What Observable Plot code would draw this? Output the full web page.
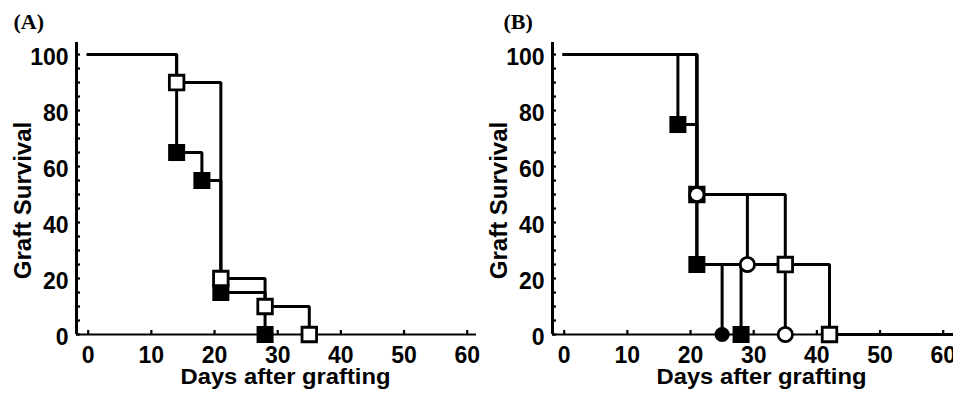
<!DOCTYPE html>
<html><head><meta charset="utf-8">
<script src="https://cdn.jsdelivr.net/npm/d3@7"></script>
<script src="https://cdn.jsdelivr.net/npm/@observablehq/plot@0.6"></script>
<style>
body{margin:0;background:#fff;}
#row{position:relative;width:953px;height:397px;}
#row svg{display:block;overflow:visible;position:absolute;top:0;}
</style></head><body><div id="row"></div>
<script>
// ---- text / ticks ----
const panelLabels = ["(A)", "(B)"];
const xLabel = "Days after grafting";
const yLabel = "Graft Survival";
const xTicks = [0, 10, 20, 30, 40, 50, 60];
const yTicks = [0, 20, 40, 60, 80, 100];
const yMinorTicks = [0, 5, 10, 15, 20, 25, 30, 35, 40, 45, 50, 55, 60, 65, 70, 75, 80, 85, 90, 95, 100];

// ---- Panel A (days, % graft survival) ----
const aOpenSquareDays = [0, 14, 21, 28, 35];
const aOpenSquareSurvival = [100, 90, 20, 10, 0];
const aFilledSquareDays = [0, 14, 18, 21, 28];
const aFilledSquareSurvival = [100, 65, 55, 15, 0];

// ---- Panel B ----
const bFilledCircleDays = [0, 21, 25];
const bFilledCircleSurvival = [100, 25, 0];
const bFilledSquareDays = [0, 18, 21, 28];
const bFilledSquareSurvival = [100, 75, 25, 0];
const bOpenSquareDays = [0, 21, 35, 42];
const bOpenSquareSurvival = [100, 50, 25, 0];
const bOpenCircleDays = [0, 21, 29, 35];
const bOpenCircleSurvival = [100, 50, 25, 0];

// ---- scales (layout) ----
const X_DOMAIN = [-1.852, 61.47];
const Y_DOMAIN = [0, 104.3];

function makeSeries(name, days, surv, symbol, filled, extend) {
  const rows = days.map((d, i) => ({series: name, day: d, surv: surv[i]}));
  return {name, rows, symbol, filled, extend};
}

const panels = [
  {label: panelLabels[0], left: 0, width: 476, labelDx: -63, series: [
    makeSeries("A filled square", aFilledSquareDays, aFilledSquareSurvival, "square", true, false),
    makeSeries("A open square", aOpenSquareDays, aOpenSquareSurvival, "square", false, false)
  ]},
  {label: panelLabels[1], left: 476, width: 477, labelDx: -49, series: [
    makeSeries("B filled circle", bFilledCircleDays, bFilledCircleSurvival, "circle", true, false),
    makeSeries("B filled square", bFilledSquareDays, bFilledSquareSurvival, "square", true, false),
    makeSeries("B open square", bOpenSquareDays, bOpenSquareSurvival, "square", false, true),
    makeSeries("B open circle", bOpenCircleDays, bOpenCircleSurvival, "circle", false, false)
  ]}
];

const row = document.getElementById("row");
const noText = () => "";

for (const p of panels) {
  const lineData = p.series.flatMap(s => {
    const r = s.rows.slice();
    if (s.extend) r.push({series: s.name, day: X_DOMAIN[1], surv: r[r.length - 1].surv});
    return r;
  });
  const dotMarks = p.series.map(s => {
    const pts = s.rows.slice(1);
    const isSq = s.symbol === "square";
    return Plot.dot(pts, {
      x: "day", y: "surv", symbol: s.symbol,
      r: s.filled ? (isSq ? 9.6 : 7.6) : (isSq ? 8.2 : 7.2),
      fill: s.filled ? "black" : "white",
      stroke: "black", strokeWidth: s.filled ? 0 : 2.8
    });
  });
  const chart = Plot.plot({
    width: p.width, height: 397,
    marginLeft: 76, marginRight: p.width - 476, marginTop: 42, marginBottom: 63,
    x: {domain: X_DOMAIN, range: [76, 476]},
    y: {domain: Y_DOMAIN, range: [334, 42]},
    style: {fontFamily: "'Liberation Sans', Arial, sans-serif", fontWeight: "bold", fontSize: "23px", background: "transparent", color: "black"},
    marks: [
      Plot.ruleY([0], {strokeWidth: 2.2}),
      Plot.ruleX([X_DOMAIN[0]], {strokeWidth: 3}),
      Plot.axisY({ticks: yMinorTicks, tickSize: 4, dx: 4, tickFormat: noText, label: null, strokeWidth: 2.2}),
      Plot.axisY({ticks: yTicks, tickSize: 0, tickPadding: 8, dy: 3, label: null, fontSize: 23, fontWeight: "bold"}),
      Plot.axisX({ticks: xTicks, tickSize: 4, dy: -4, tickFormat: noText, label: null, strokeWidth: 2.2}),
      Plot.axisX({ticks: xTicks, tickSize: 0, tickPadding: 12, label: null, fontSize: 23, fontWeight: "bold"}),
      Plot.line(lineData, {x: "day", y: "surv", z: "series", curve: "step-after", stroke: "black", strokeWidth: 3, strokeLinejoin: "miter", strokeLinecap: "square"}),
      ...dotMarks,
      Plot.text([yLabel], {text: d => d, frameAnchor: "left", textAnchor: "middle", rotate: -90, dx: -53.5, dy: 12, fontSize: 24, fontWeight: "bold"}),
      Plot.text([xLabel], {text: d => d, frameAnchor: "bottom", textAnchor: "middle", dx: 9, dy: 49, fontSize: 22, fontWeight: "bold"}),
      Plot.text([p.label], {text: d => d, frameAnchor: "top-left", textAnchor: "start", lineAnchor: "top", dx: p.labelDx, dy: -29, fontSize: 22, fontWeight: "bold", fontFamily: "'Liberation Serif', 'Times New Roman', serif"})
    ]
  });
  chart.style.left = p.left + "px";
  row.appendChild(chart);
  chart.querySelectorAll("text").forEach(t => {
    if (t.textContent === xLabel) {
      t.setAttribute("textLength", "210");
      t.setAttribute("lengthAdjust", "spacingAndGlyphs");
    }
  });
}
</script></body></html>
